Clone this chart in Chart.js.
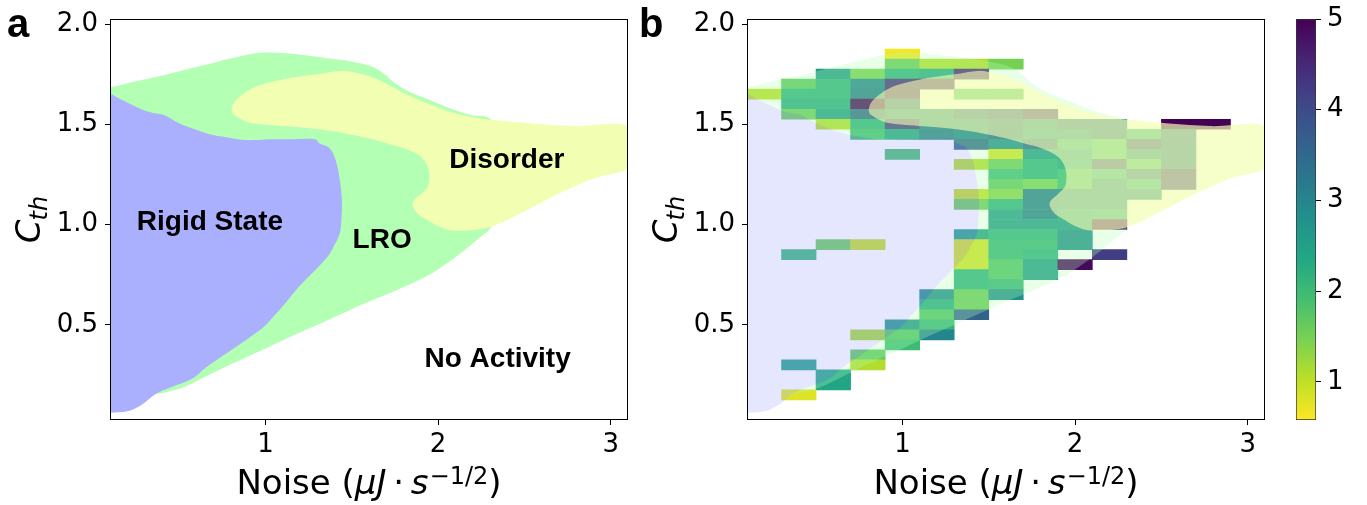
<!DOCTYPE html>
<html><head><meta charset="utf-8">
<script src="https://cdn.jsdelivr.net/npm/chart.js@4.4.1/dist/chart.umd.min.js"></script>
<style>
html,body{margin:0;padding:0;background:#fff;}
#wrap{position:relative;width:1367px;height:505px;overflow:hidden;background:#fff;}
canvas{position:absolute;top:0;}
</style></head><body>
<div id="wrap">
<canvas id="ca" width="630" height="505" style="left:0px"></canvas>
<canvas id="cb" width="660" height="505" style="left:630px"></canvas>
<canvas id="cc" width="77" height="505" style="left:1290px"></canvas>
</div>
<script>
// ---------------- data ----------------
const noiseTicks = [1, 2, 3];
const cthTicks = [0.5, 1.0, 1.5, 2.0];
const colorTicks = [1, 2, 3, 4, 5];
const noiseLimits = [0.1, 3.1];
const cthLimits = [0.025, 2.025];
const colorLimits = [0.58, 5];

// phase-region boundaries (Noise, C_th)
const rigidEdge = [[0.08,1.654],[0.1,1.654],[0.15,1.630],[0.22,1.600],[0.294,1.571],[0.35,1.556],[0.413,1.546],[0.50,1.505],[0.578,1.479],[0.697,1.446],[0.80,1.432],[0.886,1.421],[1.00,1.424],[1.15,1.425],[1.289,1.425],[1.312,1.405],[1.372,1.380],[1.407,1.321],[1.431,1.222],[1.443,1.122],[1.441,1.04],[1.431,0.956],[1.395,0.889],[1.360,0.839],[1.289,0.773],[1.194,0.689],[1.123,0.615],[1.028,0.523],[0.981,0.482],[0.886,0.423],[0.744,0.340],[0.649,0.282],[0.578,0.232],[0.460,0.191],[0.389,0.166],[0.342,0.141],[0.294,0.107],[0.223,0.074],[0.128,0.062],[0.08,0.062]];
const lroTop = [[0.08,1.684],[0.1,1.684],[0.25,1.715],[0.413,1.745],[0.649,1.795],[0.886,1.845],[0.981,1.857],[1.123,1.854],[1.360,1.829],[1.502,1.812],[1.620,1.787],[1.691,1.750],[1.739,1.712],[1.833,1.662],[1.952,1.621],[2.070,1.579],[2.189,1.546],[2.307,1.524]];
const lroBottom = [[2.307,0.989],[2.236,0.931],[2.141,0.864],[2.023,0.789],[1.928,0.739],[1.739,0.665],[1.597,0.615],[1.360,0.523],[1.123,0.432],[0.981,0.374],[0.791,0.299],[0.649,0.240],[0.531,0.191],[0.460,0.171],[0.389,0.157],[0.353,0.155]];
const disorderTop = [[0.803,1.571],[0.815,1.604],[0.851,1.637],[0.910,1.674],[1.005,1.704],[1.170,1.734],[1.312,1.751],[1.431,1.766],[1.502,1.761],[1.597,1.741],[1.680,1.712],[1.739,1.685],[1.833,1.642],[1.952,1.600],[2.070,1.563],[2.189,1.538],[2.307,1.522],[2.544,1.504],[2.781,1.491],[3.12,1.483]];
const disorderBottom = [[3.12,1.296],[2.899,1.229],[2.662,1.139],[2.496,1.064],[2.307,0.989],[2.189,0.972],[2.070,0.972],[1.999,0.992],[1.940,1.022],[1.881,1.055],[1.852,1.097],[1.862,1.122],[1.904,1.155],[1.940,1.188],[1.950,1.238],[1.940,1.288],[1.915,1.325],[1.870,1.355],[1.800,1.382],[1.715,1.402],[1.597,1.430],[1.478,1.452],[1.360,1.469],[1.241,1.481],[1.123,1.490],[1.005,1.498],[0.910,1.508],[0.851,1.529],[0.810,1.551]];

const regionLabels = ['Rigid State', 'LRO', 'Disorder', 'No Activity'];
const regionLabelAt = [[0.679,0.972],[1.676,0.881],[2.398,1.280],[2.345,0.290]];

// heat-map grid: column centres (Noise), row centres (C_th), values (null = no data)
const heatNoise = [0.2,0.4,0.6,0.8,1.0,1.2,1.4,1.6,1.8,2.0,2.2,2.4,2.6,2.8];
const heatCth = [1.85,1.80,1.75,1.70,1.65,1.60,1.55,1.50,1.45,1.40,1.35,1.30,1.25,1.20,1.15,1.10,1.05,1.00,0.95,0.90,0.85,0.80,0.75,0.70,0.65,0.60,0.55,0.50,0.45,0.40,0.35,0.30,0.25,0.20,0.15];
const _ = null;
const heatValues = [
 [_,_,_,_,0.65,_,_,_,_,_,_,_,_,_],
 [_,_,_,_,1.6,1.1,1.1,1.5,_,_,_,_,_,_],
 [_,_,2.6,1.5,2.2,2.3,4.5,_,_,_,_,_,_,_],
 [_,1.7,2.2,3.0,4.4,4.5,_,_,_,_,_,_,_,_],
 [1.05,2.2,2.2,3.1,4.5,_,1.8,1.8,_,_,_,_,_,_],
 [_,2.3,2.3,4.9,3.5,_,_,_,_,_,_,_,_,_],
 [_,1.6,2.6,3.5,3.0,3.0,3.5,3.8,4.3,_,_,_,_,_],
 [_,_,1.1,2.2,4.2,3.0,3.0,3.3,3.0,3.3,3.3,_,5.0,5.0],
 [_,_,_,2.0,2.6,3.2,3.0,3.4,2.8,3.0,3.3,2.2,3.3,_],
 [_,_,_,_,_,_,3.5,2.8,3.5,2.2,1.9,3.9,3.3,_],
 [_,_,_,_,1.9,_,_,0.9,2.6,2.6,1.9,3.0,3.3,_],
 [_,_,_,_,_,_,1.1,1.6,2.2,2.4,3.9,1.9,3.3,_],
 [_,_,_,_,_,_,_,2.0,2.2,2.0,2.3,3.3,4.2,_],
 [_,_,_,_,_,_,_,1.7,1.5,2.0,3.0,2.3,4.2,_],
 [_,_,_,_,_,_,1.0,1.4,3.1,3.0,3.0,3.0,_,_],
 [_,_,_,_,_,_,1.6,2.2,3.1,3.0,3.0,_,_,_],
 [_,_,_,_,_,_,_,2.6,3.1,2.6,2.4,_,_,_],
 [_,_,_,_,_,_,_,2.6,2.6,2.6,4.8,_,_,_],
 [_,_,_,_,_,_,2.5,2.2,2.2,2.8,_,_,_,_],
 [_,_,1.6,1.0,_,_,0.9,2.1,2.1,2.8,_,_,_,_],
 [_,2.1,_,_,_,_,0.9,2.1,2.2,_,4.2,_,_,_],
 [_,_,_,_,_,_,0.9,1.8,2.6,4.9,_,_,_,_],
 [_,_,_,_,_,_,2.2,1.8,2.6,_,_,_,_,_],
 [_,_,_,_,_,_,2.2,2.1,_,_,_,_,_,_],
 [_,_,_,_,_,2.9,1.6,2.8,_,_,_,_,_,_],
 [_,_,_,_,_,2.3,1.6,_,_,_,_,_,_,_],
 [_,_,_,_,_,1.8,3.6,_,_,_,_,_,_,_],
 [_,_,_,_,2.7,2.1,_,_,_,_,_,_,_,_],
 [_,_,_,1.2,1.8,3.0,_,_,_,_,_,_,_,_],
 [_,_,_,_,2.0,_,_,_,_,_,_,_,_,_],
 [_,_,_,1.7,_,_,_,_,_,_,_,_,_,_],
 [_,2.5,_,1.1,_,_,_,_,_,_,_,_,_,_],
 [_,_,2.4,_,_,_,_,_,_,_,_,_,_,_],
 [_,_,2.4,_,_,_,_,_,_,_,_,_,_,_],
 [_,0.8,_,_,_,_,_,_,_,_,_,_,_,_]
];

// ---------------- styling ----------------
const VIRIDIS = ['#440154','#482475','#414487','#355f8d','#2a788e','#21918c','#22a884','#44bf70','#7ad151','#bddf26','#fde725'];
const FAM = '"DejaVu Sans", sans-serif';
const tickFont = {family: 'DejaVu Sans', size: 26};
const COL = {rigid: [170,176,254], lro: [179,255,179], dis: [242,255,178]};
const rgba = (c, a) => `rgba(${c[0]},${c[1]},${c[2]},${a})`;

function hex2rgb(h){ return [parseInt(h.slice(1,3),16), parseInt(h.slice(3,5),16), parseInt(h.slice(5,7),16)]; }
function cmap(v){
  let t = 1 - (v - colorLimits[0]) / (colorLimits[1] - colorLimits[0]);
  t = Math.max(0, Math.min(1, t)) * 10;
  const i = Math.min(9, Math.floor(t)), f = t - i;
  const a = hex2rgb(VIRIDIS[i]), b = hex2rgb(VIRIDIS[i+1]);
  return `rgb(${a.map((x,k)=>Math.round(x + (b[k]-x)*f)).join(',')})`;
}
const toXY = pts => pts.map(([x, y]) => ({x, y}));

function fontFor(p, size){ return `${p.it ? 'italic ' : ''}${Math.round(size * (p.sc || 1))}px ${FAM}`; }
function drawParts(ctx, parts, size, cx, y){
  let total = 0;
  const ws = parts.map(p => { ctx.font = fontFor(p, size); const w = ctx.measureText(p.t).width; total += w + ((p.padL||0) + (p.padR||0)) * size; return w; });
  let x = cx - total / 2;
  ctx.textAlign = 'left'; ctx.textBaseline = 'alphabetic';
  parts.forEach((p, i) => { x += (p.padL||0) * size; ctx.font = fontFor(p, size); ctx.fillText(p.t, x, y + (p.dy||0) * size); x += ws[i] + (p.padR||0) * size; });
}
const xTitleParts = [{t:'Noise ('},{t:'\u03bcJ',it:1},{t:'\u00b7',padL:0.2,padR:0.2},{t:'s',it:1},{t:'\u22121/2',sc:0.7,dy:-0.30,padL:0.03},{t:')'}];
const yTitleParts = [{t:'C',it:1},{t:'th',it:1,sc:0.7,dy:0.2,padL:-0.03}];

const decor = {
  id: 'decor',
  afterDraw(chart, args, o){
    const {ctx, chartArea: a} = chart;
    ctx.save();
    ctx.strokeStyle = '#000'; ctx.lineWidth = 1;
    ctx.strokeRect(Math.round(a.left) + 0.5, Math.round(a.top) + 0.5, Math.round(a.right - a.left) - 1, Math.round(a.bottom - a.top) - 1);
    ctx.fillStyle = '#000';
    // axis titles
    drawParts(ctx, xTitleParts, 34, (a.left + a.right) / 2, 494);
    ctx.save();
    ctx.translate(a.left - 70, (a.top + a.bottom) / 2);
    ctx.rotate(-Math.PI / 2);
    drawParts(ctx, yTitleParts, 34, 0, 0);
    ctx.restore();
    // panel letter
    ctx.font = 'bold 40px "Liberation Sans", Arial, sans-serif';
    ctx.textAlign = 'left'; ctx.textBaseline = 'alphabetic';
    ctx.fillText(o.letter, o.letterX, 37);
    // region labels
    if (o.labels) {
      const xs = chart.scales.x, ys = chart.scales.y;
      ctx.font = 'bold 28px "Liberation Sans", Arial, sans-serif';
      ctx.textAlign = 'center';
      o.labels.forEach((t, i) => ctx.fillText(t, xs.getPixelForValue(o.at[i][0]), ys.getPixelForValue(o.at[i][1])));
    }
    ctx.restore();
  }
};

function axes(leftW){
  const grid = {drawOnChartArea:false, drawTicks:true, tickLength:5, tickWidth:1, tickColor:'#000', offset:false};
  return {
    x: {type:'linear', min:noiseLimits[0], max:noiseLimits[1], offset:false,
        afterBuildTicks: s => { s.ticks = noiseTicks.map(v => ({value:v})); },
        afterFit: s => { s.height = 85; s.paddingLeft = 0; s.paddingRight = 0; },
        ticks: {font:tickFont, color:'#000', padding:5, maxRotation:0, autoSkip:false, callback: v => String(v)},
        grid, border:{display:false}},
    y: {type:'linear', min:cthLimits[0], max:cthLimits[1],
        afterBuildTicks: s => { s.ticks = cthTicks.map(v => ({value:v})); },
        afterFit: s => { s.width = leftW; s.paddingTop = 0; s.paddingBottom = 0; },
        ticks: {font:tickFont, color:'#000', padding:7, autoSkip:false, callback: v => Number(v).toFixed(1)},
        grid, border:{display:false}}
  };
}
const shape = (pts, color, order, extra) => Object.assign({type:'line', data: toXY(pts), backgroundColor: color, borderColor:'rgba(0,0,0,0)', borderWidth:0, pointRadius:0, fill:'shape', tension:0.35, order}, extra || {});
const common = {responsive:false, animation:false, events:[]};

// ---------------- panel a ----------------
const lroFull = [...lroTop, [2.45, 1.30], ...lroBottom, [0.25, 0.10], [0.08, 0.06]];
new Chart(document.getElementById('ca'), {
  type: 'scatter',
  data: {datasets: [
    shape(disorderTop.concat(disorderBottom), rgba(COL.dis, 1), 1),
    shape(rigidEdge, rgba(COL.rigid, 1), 2),
    shape(lroFull, rgba(COL.lro, 1), 3)
  ]},
  options: Object.assign({}, common, {
    layout: {padding: {top:19, right:2, bottom:0, left:0}},
    plugins: {legend:{display:false}, tooltip:{enabled:false}, decor:{letter:'a', letterX:7, labels: regionLabels, at: regionLabelAt}},
    scales: axes(110)
  }),
  plugins: [decor]
});

// ---------------- panel b ----------------
const cellH = heatCth[0] - heatCth[1];
const cells = [], cellColors = [];
heatCth.forEach((c, r) => heatValues[r].forEach((v, k) => {
  if (v === null) return;
  cells.push({x: heatNoise[k], y: [c - cellH / 2, c + cellH / 2]});
  cellColors.push(cmap(v));
}));
const lroHole = [
  ...lroTop,
  ...disorderTop.filter(p => p[0] < 2.3).reverse(),
  ...disorderBottom.filter(p => p[0] < 2.3).reverse(),
  ...lroBottom,
  ...rigidEdge.filter(p => p[1] > 0.14).reverse()
];
new Chart(document.getElementById('cb'), {
  type: 'bar',
  data: {datasets: [
    shape(disorderTop.concat(disorderBottom), rgba(COL.dis, 0.7), 1),
    shape(lroHole, rgba(COL.lro, 0.3), 2),
    shape(rigidEdge, rgba(COL.rigid, 0.3), 3),
    {type:'bar', data: cells, backgroundColor: cellColors, borderWidth:0, barPercentage:1, categoryPercentage:1, grouped:false, order:10}
  ]},
  options: Object.assign({}, common, {
    layout: {padding: {top:19, right:25, bottom:0, left:0}},
    plugins: {legend:{display:false}, tooltip:{enabled:false}, decor:{letter:'b', letterX:9}},
    scales: axes(117)
  }),
  plugins: [decor]
});

// ---------------- colour bar ----------------
function barGradient(chart){
  const a = chart.chartArea;
  if (!a) return VIRIDIS[5];
  const ys = chart.scales.y;
  const g = chart.ctx.createLinearGradient(0, ys.getPixelForValue(colorLimits[0]), 0, ys.getPixelForValue(colorLimits[1]));
  VIRIDIS.forEach((c, i) => g.addColorStop(i / 10, VIRIDIS[10 - i]));
  return g;
}
new Chart(document.getElementById('cc'), {
  type: 'bar',
  data: {labels: [''], datasets: [{data: [colorLimits], backgroundColor: ctx => barGradient(ctx.chart), borderColor:'#333', borderWidth:1, borderSkipped:false, barPercentage:1, categoryPercentage:1}]},
  options: Object.assign({}, common, {
    layout: {padding: {top:19, left:6, right:6, bottom:85}},
    plugins: {legend:{display:false}, tooltip:{enabled:false}},
    scales: {
      x: {display:false},
      y: {position:'right', min:colorLimits[0], max:colorLimits[1],
          afterBuildTicks: s => { s.ticks = colorTicks.map(v => ({value:v})); },
          afterFit: s => { s.width = 45; s.paddingTop = 0; s.paddingBottom = 0; },
          ticks: {font:tickFont, color:'#000', padding:6, autoSkip:false, callback: v => String(v)},
          grid: {drawOnChartArea:false, drawTicks:true, tickLength:5, tickWidth:1, tickColor:'#000'},
          border: {display:false}}
    }
  })
});
</script>
</body></html>
